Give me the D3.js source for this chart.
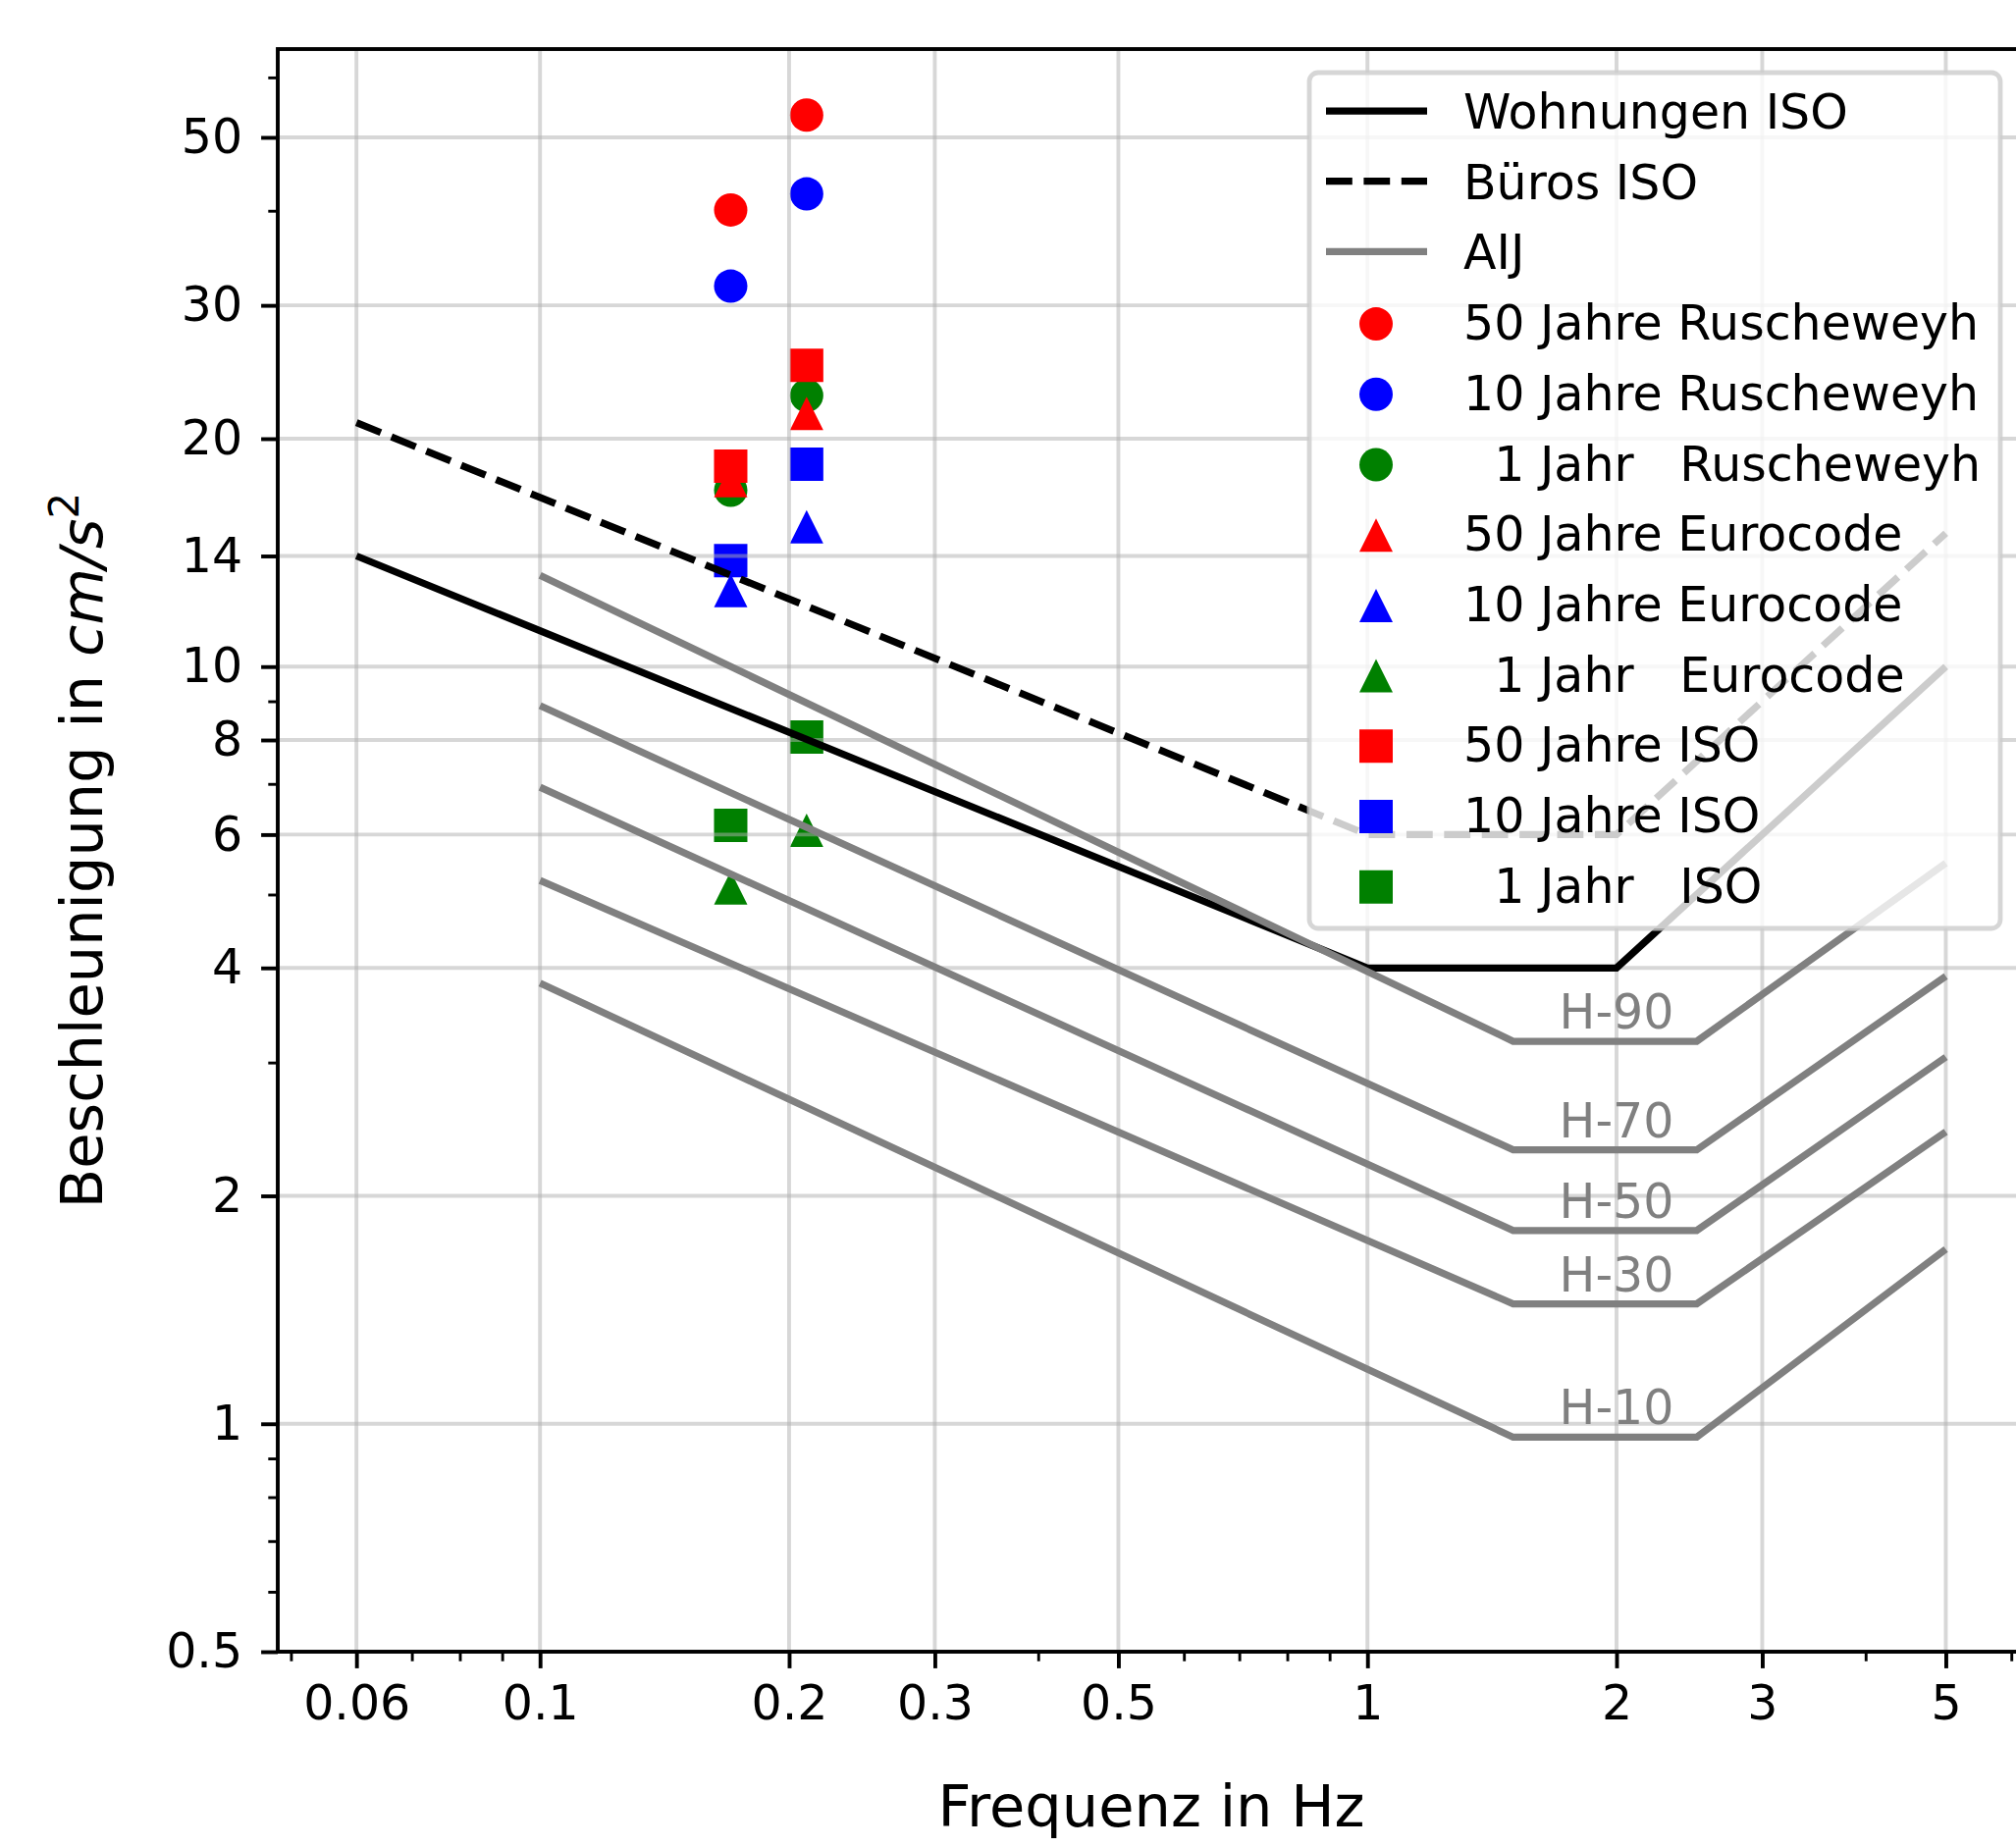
<!DOCTYPE html>
<html>
<head>
<meta charset="utf-8">
<script src="https://cdn.jsdelivr.net/npm/d3@7"></script>
<style>
  body { margin: 0; background: #fff; }
  text { font-family: "DejaVu Sans", sans-serif; white-space: pre; }
</style>
</head>
<body>
<div id="chart"></div>
<script>
// ISO 6897 limit curves
const freqISO = [0.06, 1, 2, 5];
const wohnungenISO = [14, 4, 4, 10];
const buerosISO = [21, 6, 6, 15];

// AIJ curves
const freqAIJ = [0.1, 1.5, 2.5, 5];
const aijNames = ["H-10", "H-30", "H-50", "H-70", "H-90"];
const aijH10 = [3.82, 0.96, 0.96, 1.7];
const aijH30 = [5.22, 1.44, 1.44, 2.43];
const aijH50 = [6.93, 1.8, 1.8, 3.05];
const aijH70 = [8.88, 2.3, 2.3, 3.9];
const aijH90 = [13.2, 3.2, 3.2, 5.5];

// measured points
const freqPoints = [0.17, 0.21];
const rusch50 = [40.1, 53.5];
const rusch10 = [31.8, 42.1];
const rusch1 = [17.1, 22.8];
const euro50 = [17.6, 21.6];
const euro10 = [12.6, 15.3];
const euro1 = [5.1, 6.08];
const iso50 = [18.4, 25.0];
const iso10 = [13.8, 18.5];
const iso1 = [6.17, 8.07];

const xTicks = [0.06, 0.1, 0.2, 0.3, 0.5, 1, 2, 3, 5];
const xMinor = [0.05, 0.07, 0.08, 0.09, 0.4, 0.6, 0.7, 0.8, 0.9, 4, 6];
const yTicks = [0.5, 1, 2, 4, 6, 8, 10, 14, 20, 30, 50];
const yMinor = [0.6, 0.7, 0.8, 0.9, 3, 5, 7, 9, 40, 60];

const W = 2054, H = 1882;
const plotArea = { left: 283, right: 2063, top: 50, bottom: 1683 };
const fs = 49;
const lw = 7.25;

const x = d3.scaleLog().domain([0.0482, 6.23]).range([plotArea.left, plotArea.right]);
const y = d3.scaleLog().domain([0.5, 65.4]).range([plotArea.bottom, plotArea.top]);

const svg = d3.select("#chart").append("svg")
  .attr("width", W)
  .attr("height", H);

svg.append("rect").attr("width", W).attr("height", H).attr("fill", "#fff");

const zip = (xs, ys) => xs.map((v, i) => [v, ys[i]]);
const line = d3.line().x(d => x(d[0])).y(d => y(d[1]));

// marker shapes like matplotlib (same nominal size)
const msize = 34;
const triangle = {
  draw(ctx, size) {
    const s = Math.sqrt(size) / 2;
    ctx.moveTo(0, -s);
    ctx.lineTo(s, s);
    ctx.lineTo(-s, s);
    ctx.closePath();
  }
};
const shapes = {
  circle: d3.symbol(d3.symbolCircle, Math.PI * (msize / 2) * (msize / 2)),
  triangle: d3.symbol(triangle, msize * msize),
  square: d3.symbol(d3.symbolSquare, msize * msize)
};

const pointSeries = [
  { name: "50 Jahre Ruscheweyh", values: rusch50, color: "#ff0000", shape: "circle" },
  { name: "10 Jahre Ruscheweyh", values: rusch10, color: "#0000ff", shape: "circle" },
  { name: "  1 Jahr   Ruscheweyh", values: rusch1, color: "#008000", shape: "circle" },
  { name: "50 Jahre Eurocode", values: euro50, color: "#ff0000", shape: "triangle" },
  { name: "10 Jahre Eurocode", values: euro10, color: "#0000ff", shape: "triangle" },
  { name: "  1 Jahr   Eurocode", values: euro1, color: "#008000", shape: "triangle" },
  { name: "50 Jahre ISO", values: iso50, color: "#ff0000", shape: "square" },
  { name: "10 Jahre ISO", values: iso10, color: "#0000ff", shape: "square" },
  { name: "  1 Jahr   ISO", values: iso1, color: "#008000", shape: "square" }
];

// scatter points (drawn below grid and lines)
const pts = svg.append("g");
pointSeries.forEach(s => {
  pts.selectAll(null)
    .data(zip(freqPoints, s.values))
    .enter()
    .append("path")
    .attr("transform", d => "translate(" + x(d[0]) + "," + y(d[1]) + ")")
    .attr("d", shapes[s.shape]())
    .attr("fill", s.color);
});

// grid
const grid = svg.append("g")
  .attr("stroke", "#b0b0b0")
  .attr("stroke-opacity", 0.5)
  .attr("stroke-width", 3.9);
grid.selectAll(null).data(xTicks).enter().append("line")
  .attr("x1", d => x(d)).attr("x2", d => x(d))
  .attr("y1", plotArea.top).attr("y2", plotArea.bottom);
grid.selectAll(null).data(yTicks).enter().append("line")
  .attr("x1", plotArea.left).attr("x2", plotArea.right)
  .attr("y1", d => y(d)).attr("y2", d => y(d));

// limit curves
const curves = svg.append("g").attr("fill", "none").attr("stroke-width", lw);
curves.append("path")
  .attr("d", line(zip(freqISO, wohnungenISO)))
  .attr("stroke", "#000");
curves.append("path")
  .attr("d", line(zip(freqISO, buerosISO)))
  .attr("stroke", "#000")
  .attr("stroke-dasharray", "26.8,11.6");

const aijSeries = [aijH10, aijH30, aijH50, aijH70, aijH90];
aijSeries.forEach(vals => {
  curves.append("path")
    .attr("d", line(zip(freqAIJ, vals)))
    .attr("stroke", "#808080");
});

// axes
const xAxis = svg.append("g")
  .attr("transform", "translate(0," + plotArea.bottom + ")")
  .call(d3.axisBottom(x).tickValues(xTicks).tickFormat(d => String(d))
    .tickSize(16.9).tickPadding(17).tickSizeOuter(0));
const xAxisMinor = svg.append("g")
  .attr("transform", "translate(0," + plotArea.bottom + ")")
  .call(d3.axisBottom(x).tickValues(xMinor).tickFormat("").tickSize(9.7).tickSizeOuter(0));
const yAxis = svg.append("g")
  .attr("transform", "translate(" + plotArea.left + ",0)")
  .call(d3.axisLeft(y).tickValues(yTicks).tickFormat(d => String(d))
    .tickSize(16.9).tickPadding(19).tickSizeOuter(0));
const yAxisMinor = svg.append("g")
  .attr("transform", "translate(" + plotArea.left + ",0)")
  .call(d3.axisLeft(y).tickValues(yMinor).tickFormat("").tickSize(9.7).tickSizeOuter(0));

[xAxis, yAxis, xAxisMinor, yAxisMinor].forEach(a => {
  a.select(".domain").remove();
  a.selectAll("text")
    .style("font-family", "DejaVu Sans")
    .style("font-size", fs + "px")
    .attr("fill", "#000");
});
xAxis.selectAll(".tick line").attr("stroke", "#000").attr("stroke-width", 3.9);
yAxis.selectAll(".tick line").attr("stroke", "#000").attr("stroke-width", 3.9);
xAxisMinor.selectAll(".tick line").attr("stroke", "#000").attr("stroke-width", 2.9);
yAxisMinor.selectAll(".tick line").attr("stroke", "#000").attr("stroke-width", 2.9);

// spines
svg.append("rect")
  .attr("x", plotArea.left).attr("y", plotArea.top)
  .attr("width", plotArea.right - plotArea.left)
  .attr("height", plotArea.bottom - plotArea.top)
  .attr("fill", "none")
  .attr("stroke", "#000")
  .attr("stroke-width", 3.9);

// AIJ labels
svg.append("g").selectAll("text")
  .data(aijNames)
  .enter()
  .append("text")
  .attr("x", x(2))
  .attr("y", (d, i) => y(aijSeries[i][1]) - 13)
  .attr("text-anchor", "middle")
  .attr("fill", "#808080")
  .style("font-size", fs + "px")
  .text(d => d);

// axis labels
svg.append("text")
  .attr("x", (plotArea.left + plotArea.right) / 2)
  .attr("y", 1861)
  .attr("text-anchor", "middle")
  .style("font-size", "59px")
  .text("Frequenz in Hz");

const ylab = svg.append("text")
  .attr("transform", "translate(104," + (plotArea.top + plotArea.bottom) / 2 + ") rotate(-90)")
  .attr("text-anchor", "middle")
  .style("font-size", "59px");
ylab.append("tspan").text("Beschleunigung in ");
ylab.append("tspan").style("font-style", "italic").text("cm/s");
ylab.append("tspan").attr("dy", -24).style("font-size", "42px").text("2");

// legend
const legend = svg.append("g");
legend.append("rect")
  .attr("x", 1334).attr("y", 74)
  .attr("width", 704).attr("height", 872)
  .attr("rx", 9)
  .attr("fill", "#fff")
  .attr("fill-opacity", 0.8)
  .attr("stroke", "#cccccc")
  .attr("stroke-opacity", 0.8)
  .attr("stroke-width", 4.8);

const legendItems = [
  { name: "Wohnungen ISO", kind: "line", color: "#000", dash: null },
  { name: "Büros ISO", kind: "line", color: "#000", dash: "26.8,11.6" },
  { name: "AIJ", kind: "line", color: "#808080", dash: null }
].concat(pointSeries.map(s => ({ name: s.name, kind: s.shape, color: s.color })));

const rowH = 71.7, firstBase = 131;
const items = legend.selectAll(".item")
  .data(legendItems)
  .enter()
  .append("g")
  .attr("class", "item")
  .attr("transform", (d, i) => "translate(0," + (firstBase + i * rowH) + ")");

items.filter(d => d.kind === "line")
  .append("line")
  .attr("x1", 1351).attr("x2", 1454)
  .attr("y1", -18).attr("y2", -18)
  .attr("stroke", d => d.color)
  .attr("stroke-width", lw)
  .attr("stroke-dasharray", d => d.dash);

items.filter(d => d.kind !== "line")
  .append("path")
  .attr("transform", "translate(1402,-16)")
  .attr("d", d => shapes[d.kind]())
  .attr("fill", d => d.color);

items.append("text")
  .attr("x", 1491)
  .attr("y", 0)
  .style("font-size", fs + "px")
  .text(d => d.name);
</script>
</body>
</html>
